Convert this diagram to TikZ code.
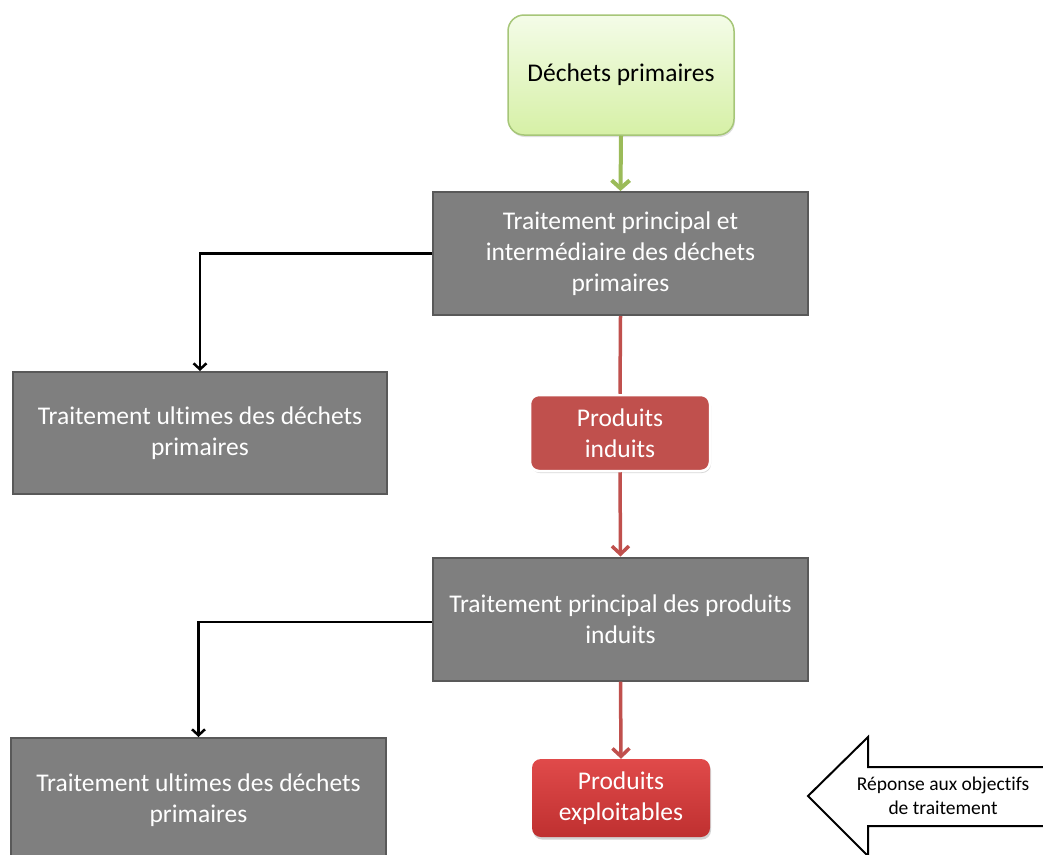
\documentclass[tikz,border=0pt]{standalone}
\usepackage{fontspec}
\setmainfont{Carlito}[Ligatures={NoCommon}]
\usetikzlibrary{arrows.meta,shadows}
\definecolor{boxgray}{HTML}{7F7F7F}
\definecolor{boxedge}{HTML}{595959}
\definecolor{lgtop}{HTML}{F4FCE8}
\definecolor{lgbot}{HTML}{D6F0A6}
\definecolor{lgedge}{HTML}{A6C678}
\definecolor{arrgreen}{HTML}{9BBB59}
\definecolor{arrred}{HTML}{C0504D}
\definecolor{pitop}{HTML}{C0504D}
\definecolor{petop}{HTML}{E04A4A}
\definecolor{pebot}{HTML}{BF3030}
\begin{document}
\begin{tikzpicture}[x=1pt,y=-1pt,
  graybox/.style={rectangle,draw=boxedge,line width=2pt,fill=boxgray,text=white,
    font=\fontsize{25.5}{31}\selectfont,align=center,inner sep=0pt},
  redbox/.style={rectangle,rounded corners=9pt,text=white,
    font=\fontsize{25.5}{31}\selectfont,align=center,inner sep=0pt},
  greenline/.style={draw=arrgreen,line width=4pt,-{Straight Barb[length=8pt,width=18pt,line width=4pt]}},
  redline/.style={draw=arrred,line width=3.5pt},
  redarrow/.style={redline,-{Straight Barb[length=8pt,width=17pt,line width=3.5pt]}},
  blackarrow/.style={draw=black,line width=2.5pt,-{Straight Barb[length=6pt,width=13pt,line width=2.5pt]}}
]
\useasboundingbox (0,0) rectangle (1043,854);
\fill[white] (0,0) rectangle (1043,854);

\node[rectangle,rounded corners=16pt,draw=lgedge,line width=1.5pt,
  top color=lgtop,bottom color=lgbot,minimum width=226pt,minimum height=120pt,
  font=\fontsize{25.5}{31}\selectfont,inner sep=0pt,
  drop shadow={shadow xshift=1pt,shadow yshift=-2pt,opacity=0.25}] (D) at (621,75) {Déchets primaires};

\node[graybox,minimum width=375pt,minimum height=123pt] (T1) at (620.5,253.5)
  {Traitement principal et\\intermédiaire des déchets\\primaires};
\node[graybox,minimum width=374pt,minimum height=122pt] (U1) at (200,433)
  {Traitement ultimes des déchets\\primaires};
\node[redbox,fill=pitop,draw=white,line width=2.5pt,minimum width=180pt,minimum height=76pt,
  drop shadow={shadow xshift=1pt,shadow yshift=-2pt,opacity=0.3}] (PI) at (620,433)
  {Produits\\induits};
\node[graybox,minimum width=375pt,minimum height=123pt] (T2) at (620.5,619)
  {Traitement principal des produits\\induits};
\node[graybox,minimum width=375pt,minimum height=124pt] (U2) at (198.5,800)
  {Traitement ultimes des déchets\\primaires};
\node[redbox,top color=petop,bottom color=pebot,minimum width=178pt,minimum height=78pt,
  drop shadow={shadow xshift=1pt,shadow yshift=-2.5pt,opacity=0.35}] (PE) at (621,798)
  {Produits\\exploitables};

\coordinate (tip) at (808,796);
\draw[line width=2pt,fill=white,line join=miter] (tip) -- (868,737) -- (868,767) -- (1046,767)
  -- (1046,826) -- (868,826) -- (868,856) -- cycle;
\node[font=\fontsize{19.5}{24}\selectfont,align=center] (R) at (943,796)
  {Réponse aux objectifs\\de traitement};

\draw[greenline] (D.south) -- (T1.north);
\draw[blackarrow] (T1.west) -| (U1.north);
\draw[redline] (T1.south) -- (PI.north);
\draw[redarrow] (PI.south) -- (T2.north);
\draw[blackarrow] ([yshift=-3pt]T2.west) -| (U2.north);
\draw[redarrow] (T2.south) -- (PE.north);
\end{tikzpicture}
\end{document}
